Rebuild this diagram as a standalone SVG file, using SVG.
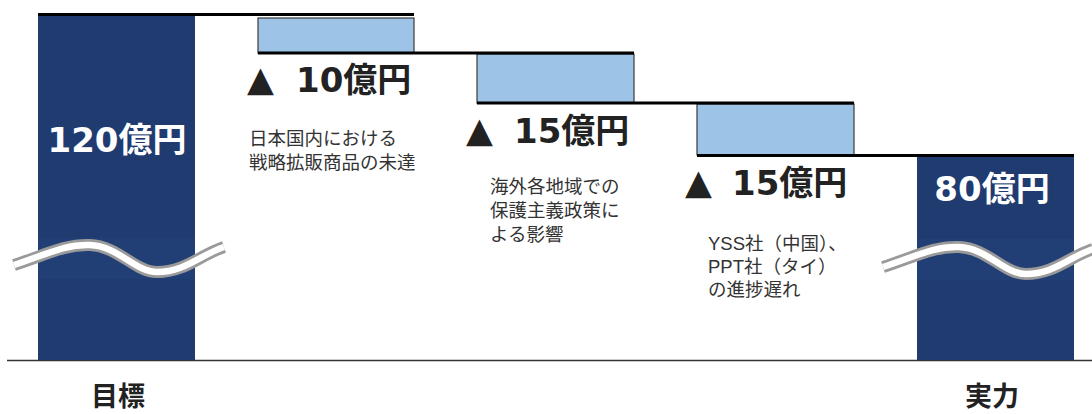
<svg xmlns="http://www.w3.org/2000/svg" width="1092" height="414" viewBox="0 0 1092 414">
<style>
.bar{fill:#1F3B70}
.band{fill:#2C4C85;opacity:0.25}
.box{fill:#9DC3E6;stroke:#3a3a3a;stroke-width:1.2}
.step{stroke:#000;stroke-width:3.2;fill:none}
.base{stroke:#333;stroke-width:1.3}
.big{font-family:"DejaVu Sans","Noto Sans CJK JP",sans-serif;font-weight:bold;font-size:34px}
.amt{font-family:"DejaVu Sans","Noto Sans CJK JP",sans-serif;font-weight:bold;font-size:34px;fill:#222}
.tri{font-family:"DejaVu Sans","Noto Sans CJK JP",sans-serif;font-size:35px;fill:#222}
.desc{font-family:"Liberation Sans","Noto Sans CJK JP",sans-serif;font-size:18.5px;fill:#333}
.lbl{font-family:"Liberation Sans","Noto Sans CJK JP",sans-serif;font-weight:bold;font-size:27px;fill:#222;text-anchor:middle}
.w1{stroke:#9a9a9a;stroke-width:12;fill:none}
.w2{stroke:#ffffff;stroke-width:6.5;fill:none}
</style>
<defs>
<path id="wave" d="M14,265 C45,255 65,244 90,245 C118,246 135,272 157,272 C185,272 200,255 224,247"/>
</defs>
<line class="base" x1="7" y1="360.5" x2="1092" y2="360.5"/>
<g id="target">
<rect class="bar" x="38" y="16" width="157" height="344"/>
<rect class="band" x="38" y="238" width="157" height="41"/>
<use href="#wave" class="w1"/>
<use href="#wave" class="w2"/>
<text class="big" x="117" y="152" fill="#fff" text-anchor="middle">120億円</text>
<text class="lbl" x="118" y="406">目標</text>
</g>
<g id="loss1">
<rect class="box" x="258" y="18" width="156" height="35"/>
<text class="tri" x="247" y="91">▲</text>
<text class="amt" x="296" y="92">10億円</text>
<text class="desc" x="249" y="145">日本国内における</text>
<text class="desc" x="249" y="169">戦略拡販商品の未達</text>
</g>
<g id="loss2">
<rect class="box" x="477" y="54" width="157" height="49"/>
<text class="tri" x="466" y="142">▲</text>
<text class="amt" x="514" y="143">15億円</text>
<text class="desc" x="490" y="193">海外各地域での</text>
<text class="desc" x="490" y="217">保護主義政策に</text>
<text class="desc" x="490" y="241">よる影響</text>
</g>
<g id="loss3">
<rect class="box" x="697" y="104" width="157" height="51"/>
<text class="tri" x="685" y="194">▲</text>
<text class="amt" x="732" y="195">15億円</text>
<text class="desc" x="708" y="250">YSS社（中国）、</text>
<text class="desc" x="708" y="273">PPT社（タイ）</text>
<text class="desc" x="708" y="296">の進捗遅れ</text>
</g>
<g id="actual">
<rect class="bar" x="917" y="156" width="157" height="204"/>
<rect class="band" x="917" y="239" width="157" height="41"/>
<use href="#wave" class="w1" transform="translate(869,2)"/>
<use href="#wave" class="w2" transform="translate(869,2)"/>
<text class="big" x="992" y="201" fill="#fff" text-anchor="middle">80億円</text>
<text class="lbl" x="992" y="406">実力</text>
</g>
<g id="connectors">
<line class="step" x1="38" y1="14.5" x2="414" y2="14.5"/>
<line class="step" x1="258" y1="53" x2="634" y2="53"/>
<line class="step" x1="477" y1="103" x2="854" y2="103"/>
<line class="step" x1="697" y1="155.5" x2="1074" y2="155.5"/>
</g>
</svg>
